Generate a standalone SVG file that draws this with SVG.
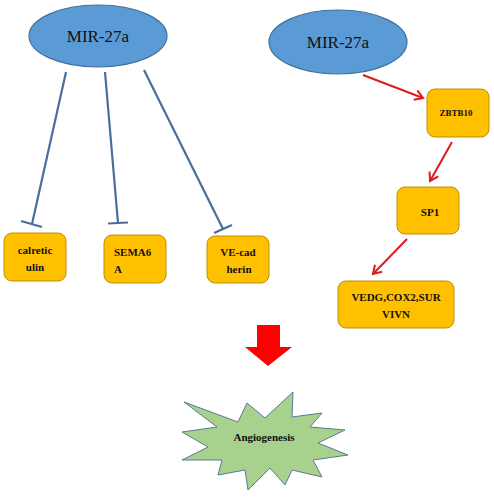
<svg xmlns="http://www.w3.org/2000/svg" width="494" height="498" viewBox="0 0 494 498">
<style>
.ell{fill:#5B9BD5;stroke:#41719C;stroke-width:1.2}
.box{fill:#FFC000;stroke:#BF9000;stroke-width:1}
.t{font-family:"Liberation Serif","Times New Roman",serif;fill:#111}
.big{font-size:17px}
.lbl{font-size:11px;font-weight:bold}
.inh{stroke:#4A6E9A;stroke-width:2.2;fill:none}
.act{stroke:#E01B1B;stroke-width:2;fill:none;marker-end:url(#ah)}
</style>
<defs>
<marker id="ah" markerWidth="12" markerHeight="12" refX="9" refY="6" orient="auto" markerUnits="userSpaceOnUse">
<path d="M1,1 L9,6 L1,11" fill="none" stroke="#E01B1B" stroke-width="2"/>
</marker>
</defs>
<g id="connectors">
<line class="inh" x1="66" y1="72" x2="32" y2="224"/>
<line class="inh" x1="21" y1="221" x2="42" y2="227"/>
<line class="inh" x1="105" y1="72" x2="118" y2="223"/>
<line class="inh" x1="108" y1="223.5" x2="128" y2="222.5"/>
<line class="inh" x1="144" y1="70" x2="223" y2="229"/>
<line class="inh" x1="214" y1="233" x2="232" y2="225"/>
<line class="act" x1="363" y1="75" x2="423" y2="98"/>
<line class="act" x1="452" y1="142" x2="430" y2="181"/>
<line class="act" x1="407" y1="239" x2="373" y2="274"/>
</g>
<g id="mir27a-left">
<ellipse class="ell" cx="98" cy="36" rx="69" ry="31"/>
<text class="t big" x="98" y="42" text-anchor="middle">MIR-27a</text>
</g>
<g id="mir27a-right">
<ellipse class="ell" cx="338" cy="42" rx="69" ry="32"/>
<text class="t big" x="338" y="48" text-anchor="middle">MIR-27a</text>
</g>
<g id="calreticulin">
<rect class="box" x="4" y="233" width="62" height="48" rx="8"/>
<text class="t lbl" x="35" y="254" text-anchor="middle">calretic</text>
<text class="t lbl" x="35" y="271" text-anchor="middle">ulin</text>
</g>
<g id="sema6a">
<rect class="box" x="104" y="235" width="62" height="48" rx="8"/>
<text class="t lbl" x="114" y="256">SEMA6</text>
<text class="t lbl" x="114" y="273">A</text>
</g>
<g id="vecadherin">
<rect class="box" x="207" y="236" width="62" height="47" rx="8"/>
<text class="t lbl" x="238" y="256" text-anchor="middle">VE-cad</text>
<text class="t lbl" x="239" y="273" text-anchor="middle">herin</text>
</g>
<g id="zbtb10">
<rect class="box" x="427" y="89" width="62" height="48" rx="8"/>
<text class="t" x="456" y="116" text-anchor="middle" font-size="9" font-weight="bold">ZBTB10</text>
</g>
<g id="sp1">
<rect class="box" x="397" y="187" width="62" height="47" rx="8"/>
<text class="t lbl" x="430" y="216" text-anchor="middle">SP1</text>
</g>
<g id="vedg">
<rect class="box" x="338" y="281" width="116" height="47" rx="8"/>
<text class="t lbl" x="396" y="301" text-anchor="middle">VEDG,COX2,SUR</text>
<text class="t lbl" x="396" y="318" text-anchor="middle">VIVN</text>
</g>
<g id="big-arrow">
<path d="M257,325 L280,325 L280,347 L292,347 L268,366 L245,347 L257,347 Z" fill="#FF0000"/>
</g>
<g id="angiogenesis">
<polygon points="184,402 238,422 247,403 265,418 293,392 292,417 322,413 310,427 345,430 318,443 348,455 313,460 322,477 292,470 285,485 270,468 248,490 245,470 218,475 222,460 182,460 208,447 182,432 217,427" fill="#A9D18E" stroke="#5A7A95" stroke-width="1"/>
<text class="t lbl" x="264" y="441" text-anchor="middle">Angiogenesis</text>
</g>
</svg>
